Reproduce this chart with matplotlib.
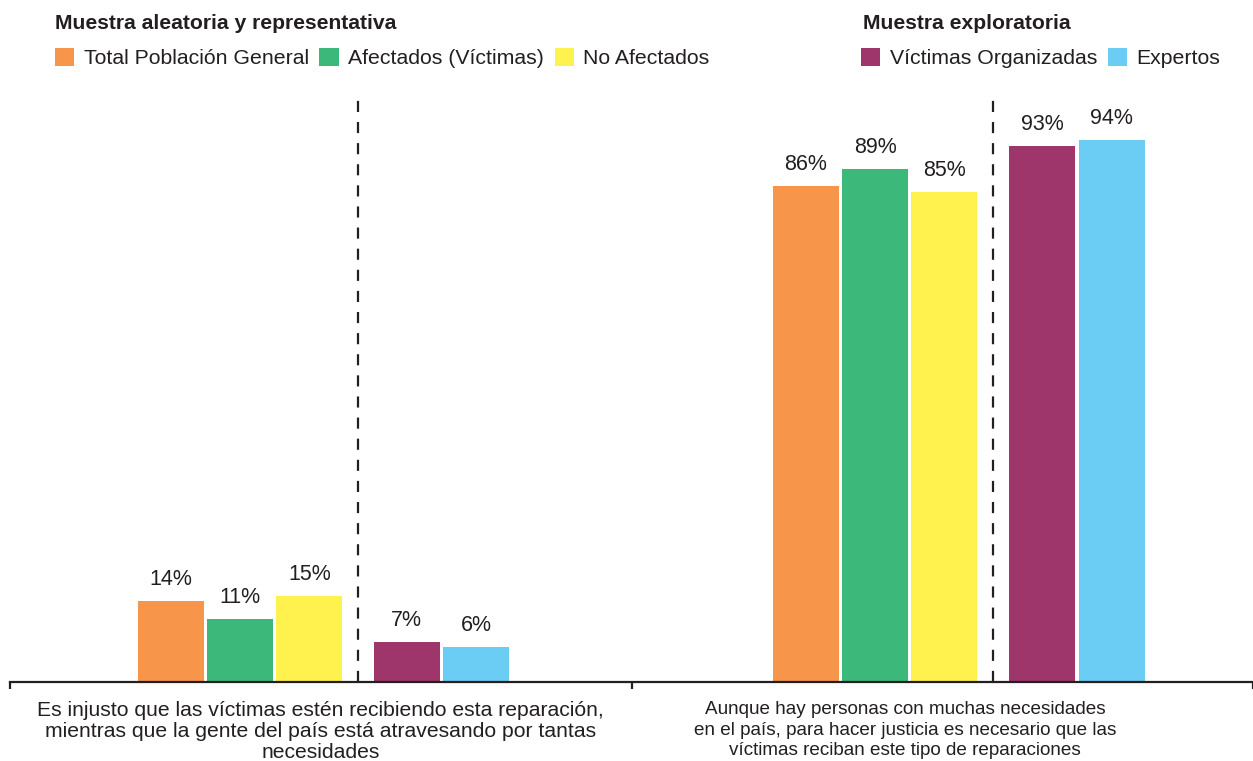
import matplotlib.pyplot as plt
import numpy as np

plt.rcParams['font.family'] = ['Liberation Sans', 'DejaVu Sans']

# Data
categorias = ['Es injusto que las víctimas estén recibiendo esta reparación,\n'
              'mientras que la gente del país está atravesando por tantas\nnecesidades',
              'Aunque hay personas con muchas necesidades\n'
              'en el país, para hacer justicia es necesario que las\n'
              'víctimas reciban este tipo de reparaciones']
series = ['Total Población General', 'Afectados (Víctimas)', 'No Afectados',
          'Víctimas Organizadas', 'Expertos']
valores = [[14, 86],
           [11, 89],
           [15, 85],
           [7, 93],
           [6, 94]]
colores = ['#F7964A', '#3CB97A', '#FFF24F', '#9E356B', '#6BCDF4']
titulos = ['Muestra aleatoria y representativa', 'Muestra exploratoria']

texto = '#231F20'

# layout
centros = np.array([0.0, 1.022])
offsets = [-0.2415, -0.1295, -0.0185, 0.1385, 0.2505]
ancho = 0.106
pos_div = 0.0595
pos_etiquetas = [0.0, 0.94]

fig = plt.figure(figsize=(12.53, 7.61), dpi=100)
ax = fig.add_axes([10 / 1253, 1 - 682 / 761, 1 - 10 / 1253, 582 / 761])

barras = []
for i, (nombre, vals, col) in enumerate(zip(series, valores, colores)):
    b = ax.bar(centros + offsets[i], vals, width=ancho, color=col, label=nombre)
    barras.append(b)
    for x, v in zip(centros + offsets[i], vals):
        ax.annotate(f'{v}%', (x, v), xytext=(0, 11.5), textcoords='offset points',
                    ha='center', va='baseline', fontsize=15.5, color=texto)

for c in centros:
    ax.axvline(c + pos_div, color=texto, lw=1.6, linestyle=(0, (5, 4.5)))

ax.set_xlim(-0.5, 1.5)
ax.set_ylim(0, 101)
for s in ['top', 'right', 'left']:
    ax.spines[s].set_visible(False)
ax.spines['bottom'].set_linewidth(1.6)
ax.spines['bottom'].set_color(texto)
ax.set_yticks([])
ax.set_xticks(pos_etiquetas)
etqs = ax.set_xticklabels(categorias, fontsize=15.2, color=texto, linespacing=1.11)
etqs[1].set_fontsize(13.6)
etqs[1].set_linespacing(1.25)
ax.tick_params(axis='x', which='major', length=0, pad=14)
ax.set_xticks([-0.5, 0.5, 1.5], minor=True)
ax.tick_params(axis='x', which='minor', length=5, width=1.6, color=texto)

# legends
kw = dict(frameon=False, fontsize=15.3, handlelength=0.9, handleheight=0.9,
          handletextpad=0.45, columnspacing=0.5, borderpad=0, borderaxespad=0,
          labelcolor=texto)
fig.legend(barras[:3], series[:3], ncol=3, loc='upper left',
           bbox_to_anchor=(55 / 1253, 1 - 48 / 761), **kw)
fig.legend(barras[3:], series[3:], ncol=2, loc='upper left',
           bbox_to_anchor=(861 / 1253, 1 - 48 / 761), **kw)

fig.text(55 / 1253, 1 - 29 / 761, titulos[0], fontsize=15.2, fontweight='bold',
         color=texto, va='baseline')
fig.text(863 / 1253, 1 - 29 / 761, titulos[1], fontsize=15.2, fontweight='bold',
         color=texto, va='baseline')

fig.savefig('out.png', dpi=100)
